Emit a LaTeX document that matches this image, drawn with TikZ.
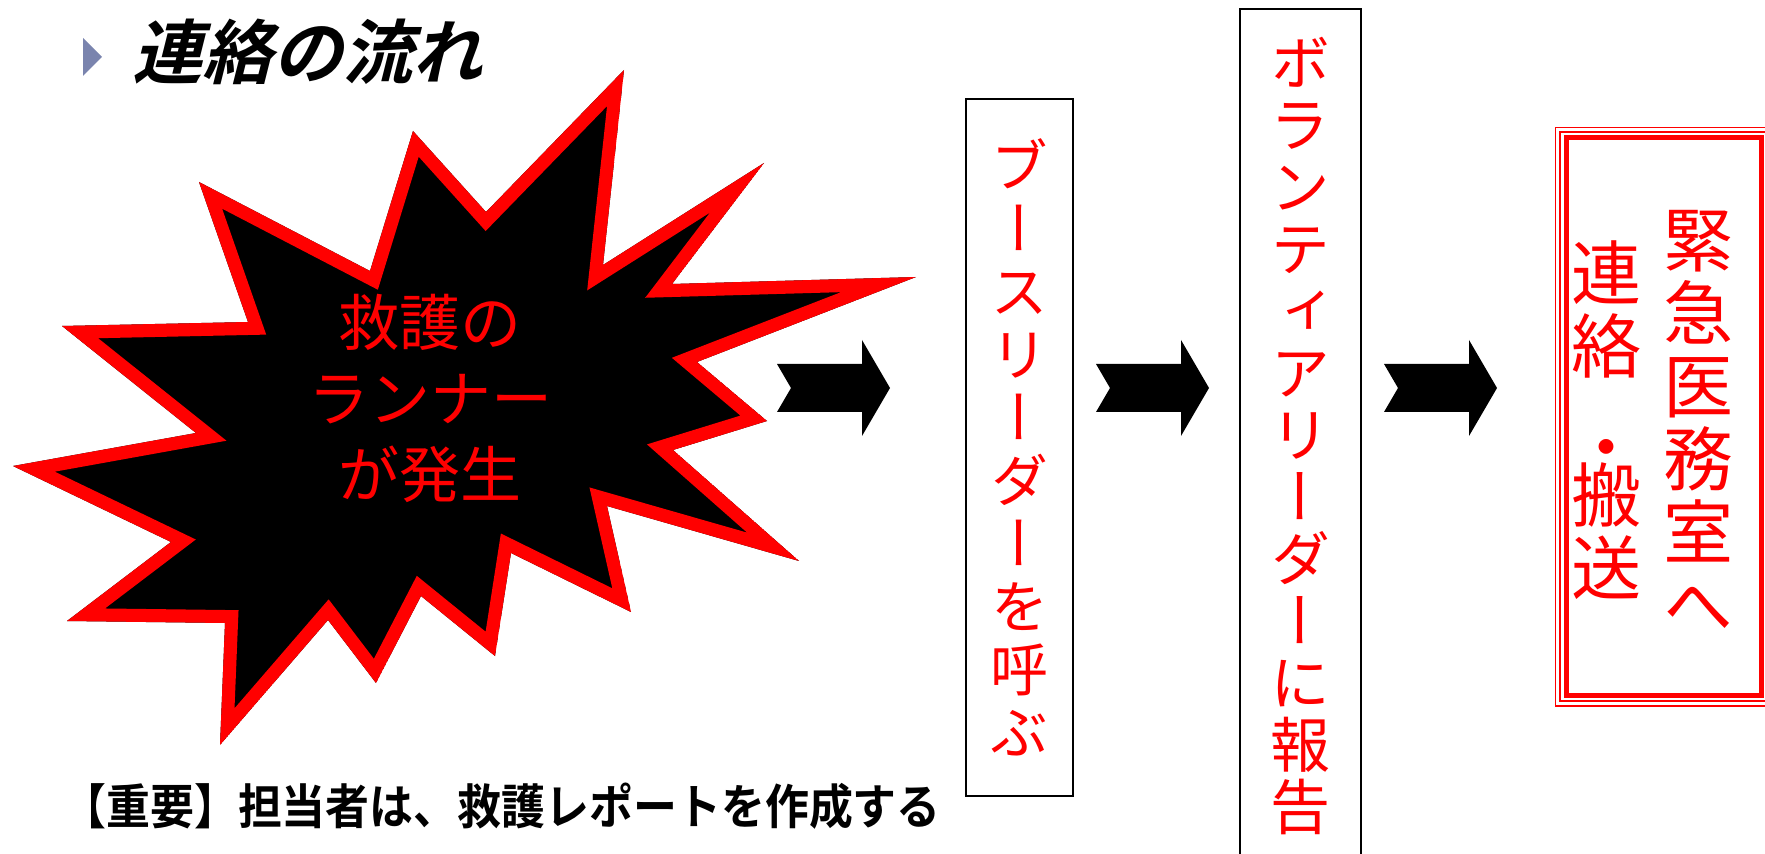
\documentclass[tikz,border=0pt]{standalone}
\usepackage{fontspec}
\newfontfamily\jpfont{Noto Sans CJK JP}
\newfontfamily\jpbold[FakeStretch=0.915]{Noto Sans CJK JP Bold}
\newfontfamily\jpvert[RawFeature=+vert]{Noto Sans CJK JP}
\newfontfamily\jptitle[FakeSlant=0.25]{Noto Sans CJK JP Bold}
\usetikzlibrary{positioning}

\definecolor{bulletblue}{HTML}{7A84AE}

\tikzset{
  redvert/.style={text=red, inner sep=0pt, align=center},
  tallbox/.style={draw=black, line width=1pt, inner sep=0pt, align=center, text=red},
  blockarrow/.style={fill=black},
}

\begin{document}
\begin{tikzpicture}[x=0.5pt, y=-0.5pt]
    % Page frame in pixels (y grows downwards)
    \useasboundingbox (0,0) rectangle (1765,854);

    % Title with its bullet
    \fill[bulletblue] (83,38) -- (102,57) -- (83,76) -- cycle;
    \coordinate (bullet) at (102,52);
    \node[anchor=west, inner sep=0pt, font=\jptitle\fontsize{35}{38}\selectfont,
          right=15pt of bullet] (title) {連絡の流れ};

    % Explosion outline
    \def\starpath{(624,70) -- (603,265) -- (764,163) -- (672,284) -- (916,277)
      -- (697,362) -- (767,421) -- (673,450) -- (799,561) -- (607,506)
      -- (631,612) -- (511,553) -- (495,656) -- (421,596) -- (376,683)
      -- (328,620) -- (220,745) -- (225,623) -- (67,621) -- (171,542)
      -- (13,466) -- (196,433) -- (62,326) -- (248,322) -- (199,182)
      -- (370,271) -- (413,131) -- (486,212) -- cycle}
    \begin{scope}
        \clip \starpath;
        \fill[black] \starpath;
        \draw[red, line width=13pt, line join=miter] \starpath;
    \end{scope}
    \node[redvert, font=\jpfont\fontsize{30.5}{38}\selectfont] (runner) at (430,398)
        {救護の\\ランナー\\が発生};

    % Note under the explosion
    \node[anchor=west, inner sep=0pt, font=\jpbold\fontsize{24}{28}\selectfont] (note)
        at (62,806) {【重要】担当者は、救護レポートを作成する};

    % Block arrows
    \foreach \ax in {777,1096,1384}
        \fill[blockarrow] (\ax,364) -- (\ax+85,364) -- (\ax+85,340) -- (\ax+113,388)
            -- (\ax+85,436) -- (\ax+85,412) -- (\ax,412) -- (\ax+14,388) -- cycle;

    % Booth leader box
    \node[tallbox, minimum width=53.5pt, minimum height=348pt,
          font=\jpvert\fontsize{29}{31.5}\selectfont] (booth) at (1019.5,447.5)
        {ブ\\ー\\ス\\リ\\ー\\ダ\\ー\\を\\呼\\ぶ};

    % Volunteer leader box (runs off the bottom)
    \node[tallbox, minimum width=60.5pt, minimum height=427pt,
          font=\jpvert\fontsize{30}{31}\selectfont] (volunteer) at (1300.5,436)
        {ボ\\ラ\\ン\\テ\\ィ\\ア\\リ\\ー\\ダ\\ー\\に\\報\\告};

    % Medical room box with triple red frame
    \node[draw=red, line width=2.5pt, minimum width=97.5pt, minimum height=278.5pt,
          inner sep=0pt] (medbox) at (1663.5,416.5) {};
    \draw[red, line width=0.8pt] (1560,132) rectangle (1767,701);
    \draw[red, line width=0.8pt] (1555.5,127.5) rectangle (1771,706);

    \node[redvert, font=\jpvert\fontsize{35}{36.5}\selectfont] (medroom) at (1698,420.5)
        {緊\\急\\医\\務\\室\\へ};
    \node[redvert, font=\jpvert\fontsize{35}{36.5}\selectfont, left=10.5pt of medroom] (carry)
        {連\\絡\\[14pt]・\\[-12.5pt]搬\\送};
\end{tikzpicture}
\end{document}
